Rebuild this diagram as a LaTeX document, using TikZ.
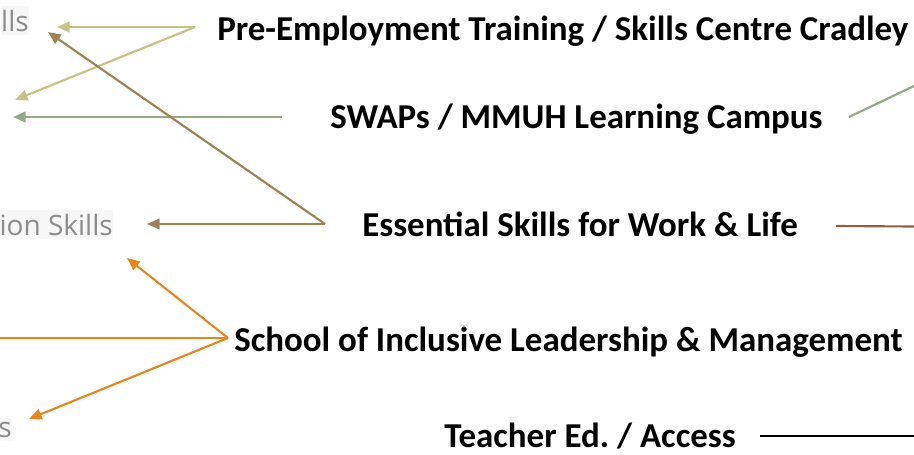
\documentclass[tikz,border=0pt]{standalone}
\usepackage{fontspec}
\setmainfont{Carlito}
\newfontfamily\labelfont{Open Sans}
\usetikzlibrary{arrows.meta}
\frenchspacing

\definecolor{khaki}{HTML}{C9C285}
\definecolor{sage}{HTML}{97A88A}
\definecolor{bronze}{HTML}{9E8256}
\definecolor{rust}{HTML}{8E5E48}
\definecolor{amber}{HTML}{E8861C}
\definecolor{greytext}{HTML}{8C8C8C}

\tikzset{
  title/.style={anchor=base west, inner sep=0pt, font=\fontsize{26.2}{29}\selectfont\bfseries},
  skill/.style={anchor=base east, inner xsep=0pt, inner ysep=3pt, fill=black!3, text=greytext,
                font=\labelfont\fontsize{21}{24}\selectfont},
  link/.style={line width=1.6pt, -{Triangle[length=9.5pt,width=8pt]}},
  plain/.style={line width=1.6pt},
}

\begin{document}
\begin{tikzpicture}[x=0.75pt,y=-0.75pt]
  \useasboundingbox (0,0) rectangle (914,454);

  % skill labels along the left edge
  \node[skill] (sA) at (29,31) {lls};
  \node[skill] (sB) at (113,235) {ion Skills};
  \node[skill] (sC) at (12,437) {s};

  % programme titles
  \node[title] (pre) at (217,40) {Pre-Employment Training / Skills Centre Cradley};
  \node[title] (swap) at (330,128) {SWAPs / MMUH Learning Campus};
  \node[title] (ess) at (362,236) {Essential Skills for Work \& Life};
  \node[title] (sch) at (234,351) {School of Inclusive Leadership \& Management};
  \node[title] (tea) at (444,447) {Teacher Ed. / Access};

  % branch points and arrow ends
  \coordinate (preH) at (195,27);
  \coordinate (tA1) at (57,27);
  \coordinate (tA2) at (15,100);
  \coordinate (swH) at (282,117);
  \coordinate (tS) at (13,117);
  \coordinate (swR0) at (849,117);
  \coordinate (swR1) at (914,86);
  \coordinate (esH) at (325,224);
  \coordinate (tE1) at (48,32);
  \coordinate (tE2) at (147,224);
  \coordinate (esR0) at (836,226);
  \coordinate (esR1) at (914,226.5);
  \coordinate (scH) at (228,338);
  \coordinate (tO1) at (127,258);
  \coordinate (tO2) at (0,338);
  \coordinate (tO3) at (29,419);
  \coordinate (teR0) at (760,436);
  \coordinate (teR1) at (914,436);

  % connectors
  \draw[link, khaki] (preH) -- (tA1);
  \draw[link, khaki] (preH) -- (tA2);
  \draw[link, sage] (swH) -- (tS);
  \draw[plain, sage] (swR0) -- (swR1);
  \draw[link, bronze] (esH) -- (tE1);
  \draw[link, bronze] (esH) -- (tE2);
  \draw[plain, rust] (esR0) -- (esR1);
  \draw[link, amber] (scH) -- (tO1);
  \draw[plain, amber] (scH) -- (tO2);
  \draw[link, amber] (scH) -- (tO3);
  \draw[plain, black, line width=1.3pt] (teR0) -- (teR1);
\end{tikzpicture}
\end{document}
